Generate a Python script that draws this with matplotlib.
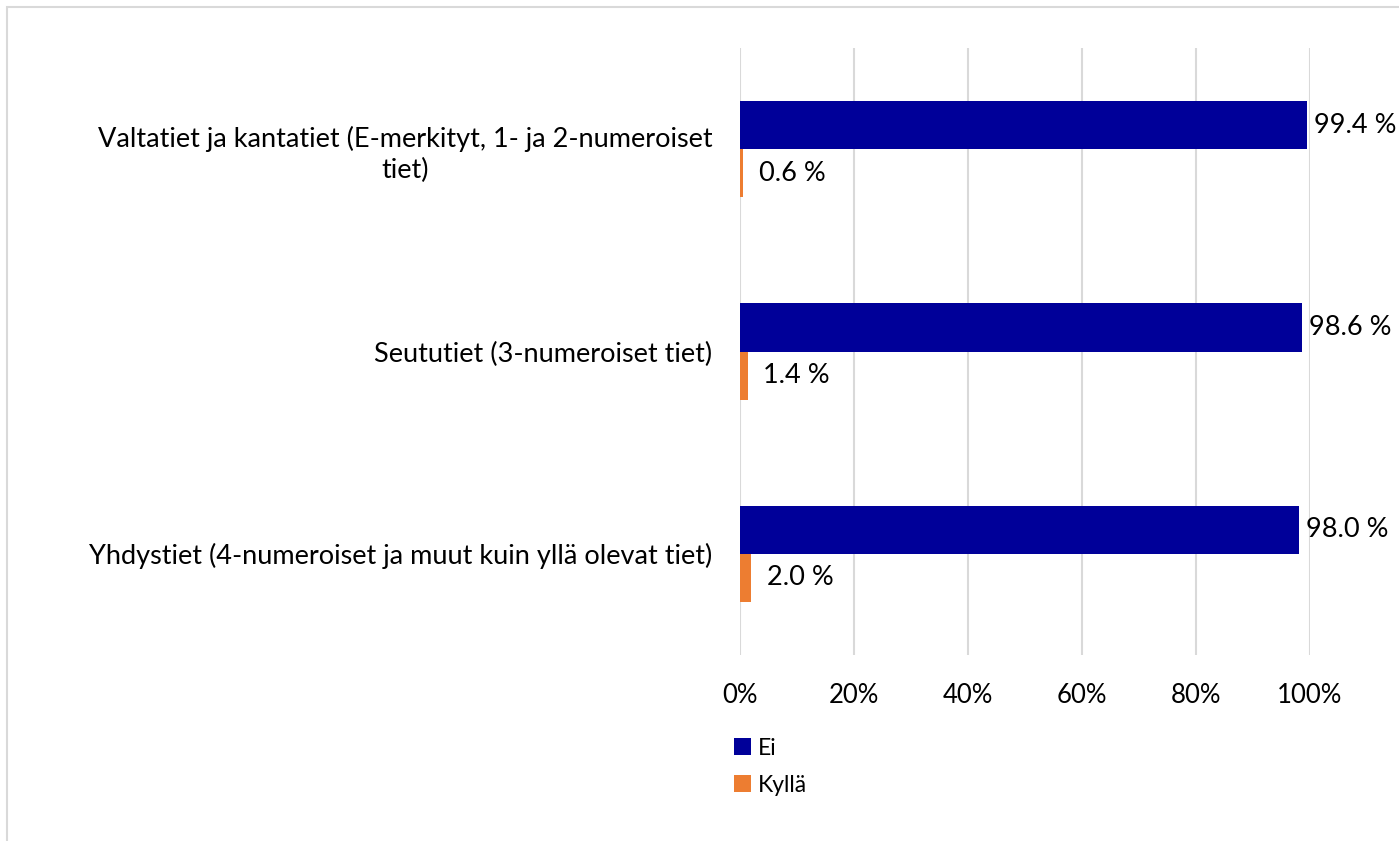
import numpy as np
import matplotlib.pyplot as plt
from matplotlib.patches import Rectangle

categories = [
    "Valtatiet ja kantatiet (E-merkityt, 1- ja 2-numeroiset\ntiet)",
    "Seututiet (3-numeroiset tiet)",
    "Yhdystiet (4-numeroiset ja muut kuin yllä olevat tiet)",
]
ei_values = [99.4, 98.6, 98.0]
kylla_values = [0.6, 1.4, 2.0]

plt.rcParams['font.family'] = ['Lato', 'DejaVu Sans']

fig = plt.figure(figsize=(13.99, 8.41), dpi=100)
ax = fig.add_axes([740 / 1399, 1 - 655 / 841, 570 / 1399, 607 / 841])

y = np.arange(len(categories))
h = 0.238
ax.barh(y - h / 2, ei_values, height=h, color='#000099', label='Ei')
ax.barh(y + h / 2, kylla_values, height=h, color='#ED7D31', label='Kyllä')

for yi, v in zip(y, ei_values):
    ax.annotate(f"{v:.1f} %", (v, yi - h / 2), xytext=(5, 0),
                textcoords='offset points', va='center', ha='left', fontsize=19.5)
for yi, v in zip(y, kylla_values):
    ax.annotate(f"{v:.1f} %", (v, yi + h / 2), xytext=(11, 0),
                textcoords='offset points', va='center', ha='left', fontsize=19.5)

ax.set_xlim(0, 100)
ax.set_ylim(2.5, -0.5)
ax.set_xticks([0, 20, 40, 60, 80, 100])
ax.set_xticklabels(['0%', '20%', '40%', '60%', '80%', '100%'], fontsize=18.5)
ax.set_yticks(y)
ax.set_yticklabels(categories, fontsize=19.5, multialignment='center', linespacing=1.3)
ax.tick_params(axis='both', length=0)
ax.tick_params(axis='x', pad=20)
ax.tick_params(axis='y', pad=20)
ax.grid(axis='x', color='#D9D9D9', linewidth=1.5)
ax.set_axisbelow(True)
for s in ax.spines.values():
    s.set_visible(False)

fig.legend(loc='upper left', bbox_to_anchor=(713 / 1399, 1 - 717 / 841),
           frameon=False, fontsize=16.5, handlelength=0.75, handleheight=0.75,
           handletextpad=0.3, labelspacing=0.7)

# light border around chart area (runs off the right and bottom edges)
fig.patches.append(Rectangle((7 / 1399, -0.1), 1.2, 1.1 - 7 / 841, transform=fig.transFigure,
                             fill=False, edgecolor='#D9D9D9', linewidth=1.5))

fig.savefig('out.png', dpi=100)
